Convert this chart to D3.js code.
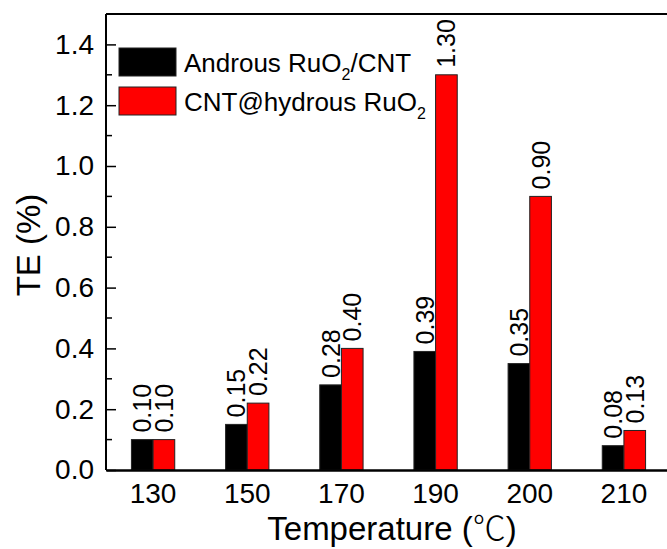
<!DOCTYPE html>
<html>
<head>
<meta charset="utf-8">
<script src="https://cdn.jsdelivr.net/npm/d3@7"></script>
<style>
  body { margin: 0; background: #fff; }
  svg { display: block; font-family: Arial, "Liberation Sans", sans-serif; }
</style>
</head>
<body>
<svg width="667" height="549"></svg>
<script>
// data
var temps = ["130", "150", "170", "190", "200", "210"];
var anhydrous = [0.10, 0.15, 0.28, 0.39, 0.35, 0.08];
var hydrous = [0.10, 0.22, 0.40, 1.30, 0.90, 0.13];
var seriesNames = ["anhydrous", "hydrous"];
var seriesColors = ["#000000", "#ff0000"];
var yTicks = [0, 0.2, 0.4, 0.6, 0.8, 1.0, 1.2, 1.4];

var svg = d3.select("svg");

var mLeft = 106, mTop = 14, mBottom = 470, mRight = 671;
var FONT = "Arial, 'Liberation Sans', sans-serif";

var x = d3.scaleBand()
    .domain(temps)
    .range([mLeft, mRight])
    .paddingInner(0.54)
    .paddingOuter(0.27);

var xs = d3.scaleBand()
    .domain(seriesNames)
    .range([0, x.bandwidth()]);

var y = d3.scaleLinear()
    .domain([0, 1.5])
    .range([mBottom, mTop]);

var color = d3.scaleOrdinal().domain(seriesNames).range(seriesColors);

var rows = temps.map(function(t, i) {
    return {t: t, values: [
        {key: "anhydrous", v: anhydrous[i]},
        {key: "hydrous", v: hydrous[i]}
    ]};
});

// bars
var groups = svg.append("g").selectAll("g")
    .data(rows)
    .enter().append("g")
    .attr("transform", (d) => "translate(" + x(d.t) + ",0)");

groups.selectAll("rect")
    .data((d) => d.values)
    .enter().append("rect")
    .attr("x", (d) => xs(d.key))
    .attr("y", (d) => y(d.v))
    .attr("width", xs.bandwidth())
    .attr("height", (d) => y(0) - y(d.v))
    .attr("fill", (d) => color(d.key))
    .style("stroke", "#222")
    .style("stroke-width", 1);

groups.selectAll("text")
    .data((d) => d.values)
    .enter().append("text")
    .attr("transform", (d) => "translate(" + (xs(d.key) + xs.bandwidth() / 2) + "," + (y(d.v) - 7) + ") rotate(-90)")
    .attr("dy", "0.36em")
    .attr("text-anchor", "start")
    .style("font-size", "25px")
    .text((d) => d.v.toFixed(2));

// y axis (ticks inside)
var yAxis = svg.append("g")
    .attr("transform", "translate(" + mLeft + ",0)")
    .call(d3.axisRight(y).tickValues(yTicks).tickSize(10).tickFormat(d3.format(".1f")));
yAxis.select(".domain").remove();
yAxis.selectAll("line").style("stroke-width", 1.5);
yAxis.selectAll("text")
    .attr("x", -12)
    .attr("text-anchor", "end")
    .style("font-size", "28px")
    .style("font-family", FONT);

// minor ticks
svg.append("g").selectAll("line")
    .data(d3.range(0.1, 1.5, 0.2))
    .enter().append("line")
    .attr("x1", mLeft).attr("x2", mLeft + 6)
    .attr("y1", (d) => y(d)).attr("y2", (d) => y(d))
    .style("stroke", "#000").style("stroke-width", 1.5);

// frame
svg.append("line").attr("x1", mLeft).attr("x2", mLeft).attr("y1", mTop).attr("y2", mBottom)
    .style("stroke", "#000").style("stroke-width", 2);
svg.append("line").attr("x1", mLeft).attr("x2", 667).attr("y1", mTop).attr("y2", mTop)
    .style("stroke", "#000").style("stroke-width", 2);

// x axis
var xAxis = svg.append("g")
    .attr("transform", "translate(0," + mBottom + ")")
    .call(d3.axisBottom(x).tickSize(0).tickPadding(13));
xAxis.select(".domain").style("stroke-width", 2.5);
xAxis.selectAll("text")
    .style("font-size", "28px")
    .style("font-family", FONT);

// axis titles
var xt = svg.append("text")
    .attr("x", 392).attr("y", 540)
    .attr("text-anchor", "middle")
    .style("font-size", "33px");
xt.append("tspan").text("Temperature (");
xt.append("tspan").style("font-family", "'Noto Sans CJK SC', sans-serif").style("font-weight", 300).text("\u2103");
xt.append("tspan").text(")");

svg.append("text")
    .attr("transform", "translate(40,245) rotate(-90)")
    .attr("text-anchor", "middle")
    .style("font-size", "33px")
    .text("TE (%)");

// legend
var legend = svg.append("g").attr("transform", "translate(119,48)");
var labels = [["Androus RuO", "2", "/CNT"], ["CNT@hydrous RuO", "2", ""]];
seriesNames.forEach(function(k, i) {
    var g = legend.append("g").attr("transform", "translate(0," + (i * 39) + ")");
    g.append("rect")
        .attr("width", 57).attr("height", 28)
        .attr("fill", color(k))
        .style("stroke", "#222").style("stroke-width", 1);
    var t = g.append("text")
        .attr("x", 65).attr("y", 24)
        .style("font-size", "26px");
    t.append("tspan").text(labels[i][0]);
    t.append("tspan").attr("dy", 8).style("font-size", "16px").text(labels[i][1]);
    t.append("tspan").attr("dy", -8).text(labels[i][2]);
});
</script>
</body>
</html>
